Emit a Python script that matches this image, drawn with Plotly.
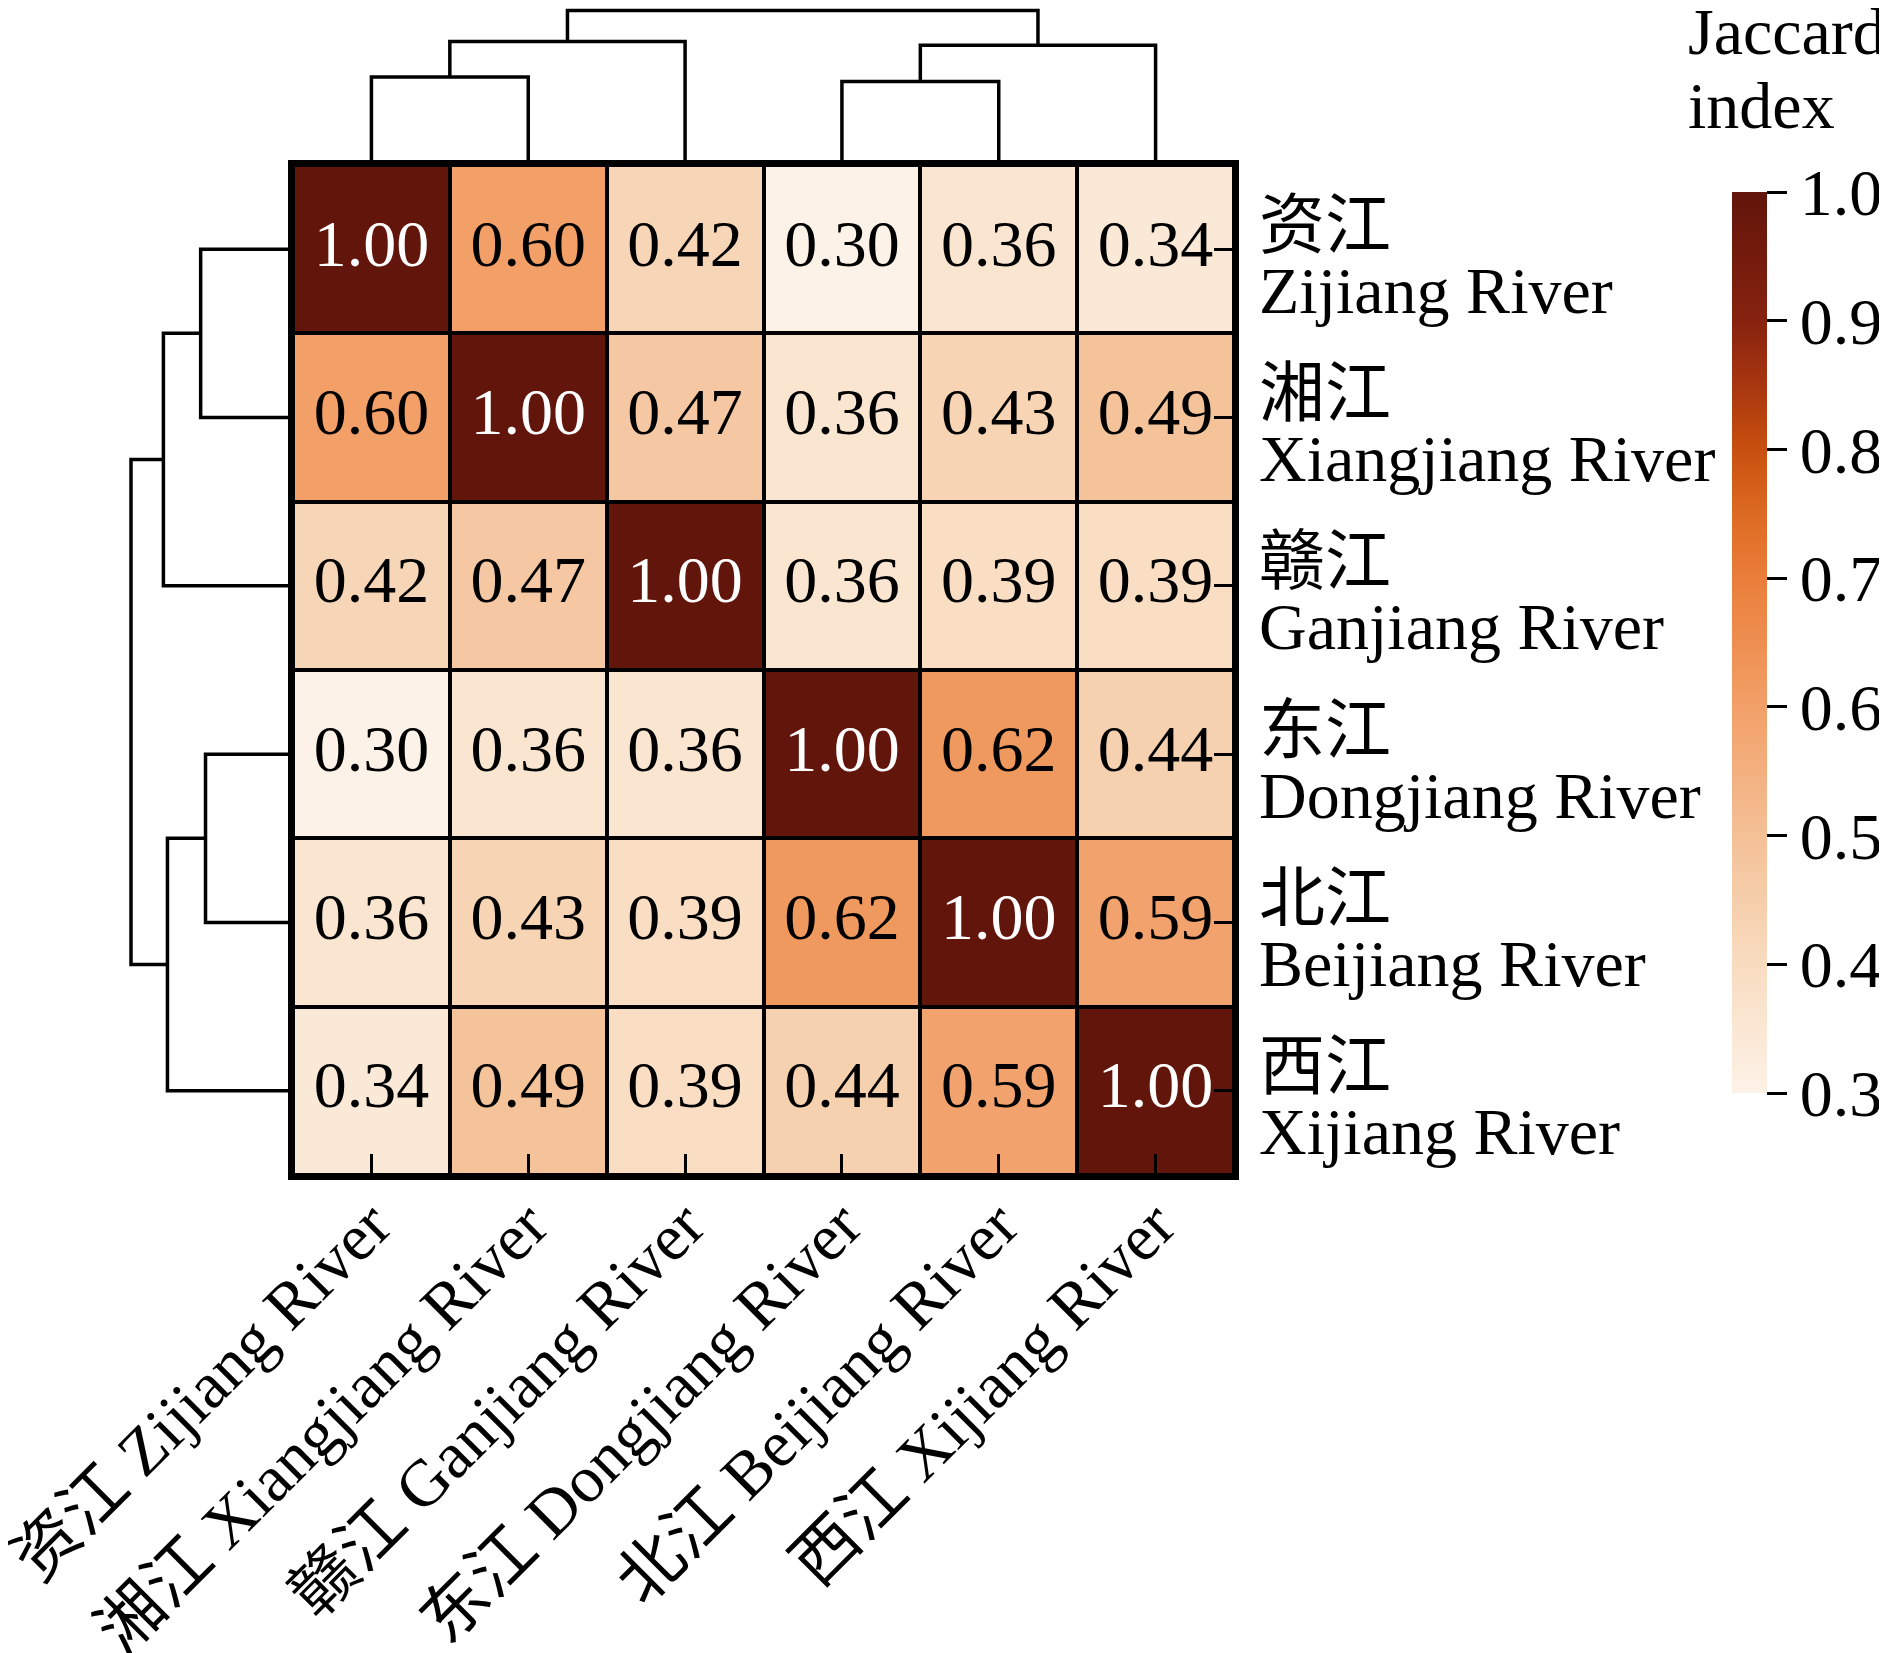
import plotly.graph_objects as go

# ---------------- data ----------------
rivers_cn = ["资江", "湘江", "赣江", "东江", "北江", "西江"]
rivers_en = ["Zijiang River", "Xiangjiang River", "Ganjiang River",
             "Dongjiang River", "Beijiang River", "Xijiang River"]
jaccard = [
    [1.00, 0.60, 0.42, 0.30, 0.36, 0.34],
    [0.60, 1.00, 0.47, 0.36, 0.43, 0.49],
    [0.42, 0.47, 1.00, 0.36, 0.39, 0.39],
    [0.30, 0.36, 0.36, 1.00, 0.62, 0.44],
    [0.36, 0.43, 0.39, 0.62, 1.00, 0.59],
    [0.34, 0.49, 0.39, 0.44, 0.59, 1.00],
]
# hierarchical linkage: (child_a, child_b, merge height); new clusters numbered 6, 7, ...
linkage = [(0, 1, 0.57), (6, 2, 0.80), (3, 4, 0.54), (8, 5, 0.775), (7, 9, 1.00)]
cbar_ticks = [0.3, 0.4, 0.5, 0.6, 0.7, 0.8, 0.9, 1.0]
cbar_title = ["Jaccard", "index"]

# ---------------- styling ----------------
PAGE_W, PAGE_H = 1887, 1653
OFF = 8                      # default body margin of the html page
W, H = PAGE_W - OFF, PAGE_H - OFF
FONT = "Liberation Serif, Times New Roman, Noto Sans CJK SC"
FS = 66
colorscale = [
    [0.000, "#fdf2e7"],
    [0.143, "#f8dcc0"],
    [0.286, "#f4c096"],
    [0.429, "#f2a068"],
    [0.571, "#ea7e3a"],
    [0.643, "#dd6a22"],
    [0.714, "#c8500f"],
    [0.786, "#a8360f"],
    [0.857, "#86220f"],
    [1.000, "#62150b"],
]


def px(xp):
    return (xp - OFF) / W


def py(yp):
    return 1 - (yp - OFF) / H


# target layout in page pixels
hm_left, hm_right, hm_top, hm_bot = 293, 1234, 165, 1175
top_root_y = 10.5
left_root_x = 131.0

n = len(rivers_en)
idx = list(range(n))


def dendro_segments(link, nleaf):
    pos = {i: float(i) for i in range(nleaf)}
    hgt = {i: 0.0 for i in range(nleaf)}
    P, Hs = [], []
    for k, (a, b, h) in enumerate(link):
        P += [pos[a], pos[a], pos[b], pos[b], None]
        Hs += [hgt[a], h, h, hgt[b], None]
        c = nleaf + k
        pos[c] = (pos[a] + pos[b]) / 2
        hgt[c] = h
    return P, Hs


dp, dh = dendro_segments(linkage, n)
root_h = max(h for _, _, h in linkage)

fig = go.Figure()

fig.add_trace(go.Heatmap(
    z=jaccard, x=idx, y=idx, zmin=0.3, zmax=1.0,
    colorscale=colorscale, xgap=4, ygap=4, hoverinfo="skip",
    colorbar=dict(
        x=px(1732), xanchor="left", xpad=0, ypad=0,
        y=py((192 + 1093) / 2), yanchor="middle",
        len=901, lenmode="pixels", thickness=35,
        outlinewidth=0,
        tickvals=cbar_ticks, tickformat=".1f",
        ticks="outside", ticklen=20, tickwidth=3, tickcolor="black",
        tickfont=dict(family=FONT, size=FS, color="black"),
    ),
))

txt = [f"{v:.2f}" for row in jaccard for v in row]
tcol = ["white" if v >= 0.9 else "black" for row in jaccard for v in row]
fig.add_trace(go.Scatter(
    x=[j for i in idx for j in idx], y=[i for i in idx for j in idx],
    mode="text", text=txt, textposition="middle center",
    textfont=dict(family=FONT, size=FS, color=tcol),
    hoverinfo="skip", showlegend=False,
))

# top dendrogram
fig.add_trace(go.Scatter(x=dp, y=dh, mode="lines", xaxis="x2", yaxis="y2",
                         line=dict(color="black", width=3.5), hoverinfo="skip",
                         showlegend=False))
# left dendrogram
fig.add_trace(go.Scatter(x=dh, y=dp, mode="lines", xaxis="x3", yaxis="y3",
                         line=dict(color="black", width=3.5), hoverinfo="skip",
                         showlegend=False))

hm_xdom = [px(hm_left), px(hm_right)]
hm_ydom = [py(hm_bot), py(hm_top)]

fig.update_layout(
    width=W, height=H, autosize=False,
    margin=dict(l=0, r=0, t=0, b=0, pad=0, autoexpand=False),
    paper_bgcolor="white", plot_bgcolor="white",
    font=dict(family=FONT, size=FS, color="black"),
    showlegend=False,
    xaxis=dict(domain=hm_xdom, range=[-0.5, n - 0.5], anchor="y",
               tickmode="array", tickvals=idx,
               ticktext=[f"{c} {e}" for c, e in zip(rivers_cn, rivers_en)],
               tickangle=-45, ticks="inside", ticklen=21, tickwidth=3,
               tickcolor="black", showline=True, mirror=True, linewidth=4.5,
               linecolor="black", showgrid=False, zeroline=False,
               ticklabelstandoff=-20, ticklabeloverflow="allow", automargin=False,
               tickfont=dict(family=FONT, size=FS, color="black")),
    yaxis=dict(domain=hm_ydom, range=[n - 0.5, -0.5], anchor="x", side="right",
               tickmode="array", tickvals=idx, showticklabels=False,
               ticks="inside", ticklen=20, tickwidth=3, tickcolor="black",
               showline=True, mirror=True, linewidth=4.5, linecolor="black",
               showgrid=False, zeroline=False, automargin=False),
    xaxis2=dict(domain=hm_xdom, range=[-0.5, n - 0.5], anchor="y2", visible=False),
    yaxis2=dict(domain=[py(hm_top), 1.0],
                range=[0, root_h * (hm_top - OFF) / (hm_top - top_root_y)],
                anchor="x2", visible=False),
    xaxis3=dict(domain=[0.0, px(hm_left)],
                range=[root_h * (hm_left - OFF) / (hm_left - left_root_x), 0],
                anchor="y3", visible=False),
    yaxis3=dict(domain=hm_ydom, range=[n - 0.5, -0.5], anchor="x3", visible=False),
)

# black background behind heatmap cells so gaps read as cell borders
fig.add_shape(type="rect", xref="x", yref="y", x0=-0.5, x1=n - 0.5,
              y0=-0.5, y1=n - 0.5, fillcolor="black", line=dict(width=0),
              layer="below")

# right-hand row labels (Chinese line + English line)
for i in idx:
    fig.add_annotation(x=px(1257), xref="paper", y=i, yref="y",
                       text=rivers_cn[i], showarrow=False, xanchor="left",
                       yanchor="middle", yshift=24,
                       font=dict(family=FONT, size=FS, color="black"))
    fig.add_annotation(x=px(1257), xref="paper", y=i, yref="y",
                       text=rivers_en[i], showarrow=False, xanchor="left",
                       yanchor="middle", yshift=-41,
                       font=dict(family=FONT, size=FS, color="black"))

# colorbar title
for t, ypx in zip(cbar_title, [32, 106]):
    fig.add_annotation(x=px(1686), xref="paper", y=py(ypx), yref="paper",
                       text=t, showarrow=False, xanchor="left", yanchor="middle",
                       font=dict(family=FONT, size=FS, color="black"))

fig.write_html("out.html")
